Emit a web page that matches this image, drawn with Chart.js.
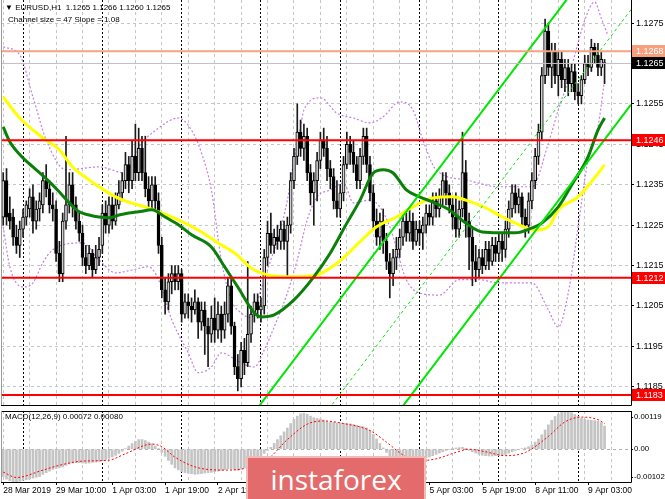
<!DOCTYPE html>
<html>
<head>
<meta charset="utf-8">
<script src="https://cdn.jsdelivr.net/npm/chart.js@4.4.1/dist/chart.umd.min.js"></script>
<style>
  html, body { margin: 0; padding: 0; background: #fff; }
  #wrap { position: relative; width: 665px; height: 499px; overflow: hidden; background: #fff; font-family: 'Liberation Sans', Arial, sans-serif; }
  #priceBox { position: absolute; left: 0; top: 0; width: 665px; height: 407px; }
  #macdBox { position: absolute; left: 0; top: 407px; width: 665px; height: 92px; }
  .hdr { position: absolute; font-size: 8px; color: #000; white-space: nowrap; line-height: 10px; }
  #watermark { position: absolute; left: 246px; top: 456px; width: 176px; height: 50px; background: #e36b6b; border: 2px solid #f2b9b9; color: #fff; font-family: 'Open Sans', 'Liberation Sans', sans-serif; font-size: 28px; line-height: 42px; text-align: center; }
</style>
</head>
<body>
<div id="wrap">
  <div id="priceBox"><canvas id="priceChart"></canvas></div>
  <div id="macdBox"><canvas id="macdChart"></canvas></div>
  <div class="hdr" style="left:5px;top:3px">&#9660; EURUSD,H1&nbsp; 1.1265 1.1266 1.1260 1.1265</div>
  <div class="hdr" style="left:8px;top:15px">Channel size = 47 Slope = 1.08</div>
  <div class="hdr" style="left:5px;top:412px">MACD(12,26,9) 0.00072 0.00080</div>
  <div id="watermark">instaforex</div>
</div>
<script>
// EURUSD H1 candles, bar 0 = 28 Mar 18:00
const opens = [
  1.1227,1.1236,1.1228,1.1227,1.1222,1.1220,1.1224,1.1227,1.1229,1.1232,
  1.1226,1.1229,1.1230,1.1236,1.1234,1.1230,1.1229,1.1218,1.1213,1.1226,
  1.1230,1.1235,1.1230,1.1226,1.1223,1.1217,1.1215,1.1218,1.1214,1.1217,
  1.1220,1.1228,1.1225,1.1230,1.1226,1.1230,1.1233,1.1236,1.1240,1.1236,
  1.1242,1.1238,1.1244,1.1238,1.1234,1.1231,1.1235,1.1231,1.1220,1.1209,
  1.1206,1.1211,1.1213,1.1211,1.1213,1.1203,1.1206,1.1205,1.1204,1.1206,
  1.1201,1.1204,1.1200,1.1198,1.1202,1.1199,1.1203,1.1199,1.1203,1.1210,
  1.1200,1.1190,1.1187,1.1194,1.1191,1.1198,1.1203,1.1206,1.1204,1.1205,
  1.1217,1.1223,1.1220,1.1222,1.1221,1.1224,1.1221,1.1225,1.1236,1.1242,
  1.1248,1.1244,1.1247,1.1238,1.1233,1.1236,1.1241,1.1246,1.1244,1.1239,
  1.1237,1.1231,1.1229,1.1233,1.1240,1.1245,1.1243,1.1240,1.1236,1.1242,
  1.1247,1.1240,1.1233,1.1226,1.1222,1.1226,1.1221,1.1216,1.1213,1.1217,
  1.1219,1.1222,1.1226,1.1223,1.1226,1.1221,1.1224,1.1223,1.1225,1.1228,
  1.1227,1.1231,1.1229,1.1232,1.1236,1.1233,1.1230,1.1227,1.1224,1.1229,
  1.1238,1.1226,1.1222,1.1216,1.1214,1.1217,1.1215,1.1219,1.1216,1.1220,
  1.1218,1.1221,1.1219,1.1224,1.1229,1.1233,1.1230,1.1232,1.1227,1.1225,
  1.1231,1.1236,1.1242,1.1248,1.1262,1.1273,1.1264,1.1268,1.1262,1.1266,
  1.1261,1.1264,1.1260,1.1263,1.1258,1.1257,1.1261,1.1265,1.1264,1.1269,
  1.1267,1.1264,1.1265
];
const highs = [
  1.1238,1.1239,1.1232,1.1229,1.1225,1.1226,1.1229,1.1231,1.1234,1.1235,
  1.1231,1.1233,1.1238,1.1240,1.1236,1.1233,1.1231,1.1221,1.1228,1.1247,
  1.1238,1.1238,1.1232,1.1228,1.1225,1.1220,1.1220,1.1219,1.1220,1.1222,
  1.1230,1.1231,1.1232,1.1232,1.1233,1.1236,1.1238,1.1243,1.1242,1.1246,
  1.1250,1.1249,1.1247,1.1247,1.1237,1.1237,1.1237,1.1233,1.1222,1.1212,
  1.1213,1.1215,1.1215,1.1215,1.1214,1.1208,1.1208,1.1207,1.1209,1.1207,
  1.1206,1.1206,1.1202,1.1205,1.1207,1.1206,1.1205,1.1206,1.1212,1.1212,
  1.1201,1.1193,1.1196,1.1197,1.1216,1.1205,1.1208,1.1208,1.1207,1.1219,
  1.1226,1.1228,1.1224,1.1225,1.1226,1.1226,1.1227,1.1238,1.1244,1.1255,
  1.1251,1.1250,1.1249,1.1240,1.1238,1.1243,1.1248,1.1249,1.1247,1.1241,
  1.1239,1.1236,1.1235,1.1242,1.1248,1.1247,1.1246,1.1242,1.1244,1.1249,
  1.1249,1.1242,1.1235,1.1229,1.1228,1.1229,1.1223,1.1218,1.1219,1.1222,
  1.1224,1.1228,1.1228,1.1229,1.1228,1.1226,1.1226,1.1227,1.1230,1.1230,
  1.1233,1.1233,1.1234,1.1238,1.1238,1.1235,1.1232,1.1233,1.1231,1.1248,
  1.1241,1.1228,1.1224,1.1220,1.1219,1.1219,1.1221,1.1221,1.1222,1.1222,
  1.1223,1.1223,1.1226,1.1231,1.1235,1.1235,1.1234,1.1233,1.1229,1.1233,
  1.1238,1.1244,1.1250,1.1264,1.1276,1.1275,1.1270,1.1270,1.1268,1.1268,
  1.1266,1.1266,1.1265,1.1265,1.1260,1.1262,1.1267,1.1267,1.1271,1.1270,
  1.1270,1.1268,1.1266
];
const lows = [
  1.1225,1.1225,1.1224,1.1220,1.1218,1.1217,1.1222,1.1225,1.1227,1.1223,
  1.1224,1.1226,1.1228,1.1232,1.1228,1.1226,1.1216,1.1211,1.1211,1.1224,
  1.1228,1.1227,1.1224,1.1221,1.1215,1.1213,1.1214,1.1212,1.1213,1.1215,
  1.1218,1.1223,1.1223,1.1224,1.1225,1.1229,1.1231,1.1234,1.1233,1.1234,
  1.1236,1.1236,1.1236,1.1232,1.1229,1.1229,1.1229,1.1218,1.1207,1.1203,
  1.1204,1.1208,1.1209,1.1209,1.1201,1.1202,1.1202,1.1201,1.1203,1.1197,
  1.1199,1.1193,1.1190,1.1196,1.1196,1.1197,1.1196,1.1197,1.1201,1.1198,
  1.1188,1.1184,1.1185,1.1188,1.1190,1.1196,1.1201,1.1202,1.1201,1.1203,
  1.1215,1.1218,1.1218,1.1219,1.1219,1.1219,1.1212,1.1223,1.1234,1.1240,
  1.1242,1.1241,1.1236,1.1230,1.1225,1.1231,1.1239,1.1242,1.1236,1.1234,
  1.1229,1.1227,1.1227,1.1231,1.1239,1.1240,1.1238,1.1234,1.1234,1.1240,
  1.1238,1.1231,1.1224,1.1220,1.1219,1.1218,1.1214,1.1207,1.1210,1.1214,
  1.1217,1.1220,1.1221,1.1221,1.1219,1.1220,1.1220,1.1219,1.1223,1.1225,
  1.1225,1.1227,1.1227,1.1230,1.1230,1.1228,1.1224,1.1222,1.1222,1.1227,
  1.1222,1.1214,1.1210,1.1211,1.1212,1.1213,1.1214,1.1214,1.1215,1.1216,
  1.1216,1.1216,1.1217,1.1222,1.1227,1.1228,1.1228,1.1225,1.1222,1.1223,
  1.1229,1.1234,1.1240,1.1246,1.1260,1.1262,1.1259,1.1260,1.1257,1.1259,
  1.1258,1.1257,1.1258,1.1256,1.1255,1.1255,1.1260,1.1262,1.1263,1.1265,
  1.1262,1.1262,1.1260
];
const closes = [
  1.1236,1.1227,1.1226,1.1222,1.1220,1.1224,1.1227,1.1230,1.1232,1.1226,
  1.1229,1.1231,1.1236,1.1234,1.1230,1.1229,1.1218,1.1213,1.1226,1.1230,
  1.1235,1.1230,1.1226,1.1223,1.1217,1.1215,1.1218,1.1214,1.1217,1.1219,
  1.1228,1.1225,1.1230,1.1226,1.1230,1.1233,1.1236,1.1240,1.1236,1.1242,
  1.1238,1.1244,1.1238,1.1234,1.1231,1.1235,1.1231,1.1220,1.1209,1.1206,
  1.1211,1.1213,1.1211,1.1213,1.1203,1.1206,1.1205,1.1204,1.1206,1.1201,
  1.1204,1.1200,1.1198,1.1202,1.1199,1.1203,1.1199,1.1203,1.1210,1.1200,
  1.1190,1.1187,1.1194,1.1191,1.1198,1.1203,1.1206,1.1204,1.1205,1.1217,
  1.1223,1.1220,1.1222,1.1221,1.1224,1.1221,1.1225,1.1236,1.1242,1.1248,
  1.1244,1.1247,1.1238,1.1233,1.1236,1.1241,1.1246,1.1244,1.1239,1.1237,
  1.1231,1.1229,1.1233,1.1240,1.1245,1.1243,1.1240,1.1236,1.1242,1.1247,
  1.1240,1.1233,1.1226,1.1222,1.1226,1.1221,1.1216,1.1213,1.1217,1.1219,
  1.1222,1.1226,1.1223,1.1226,1.1221,1.1224,1.1223,1.1225,1.1228,1.1227,
  1.1231,1.1229,1.1232,1.1236,1.1233,1.1230,1.1227,1.1224,1.1229,1.1238,
  1.1226,1.1222,1.1216,1.1214,1.1217,1.1215,1.1219,1.1216,1.1220,1.1218,
  1.1221,1.1219,1.1224,1.1229,1.1233,1.1230,1.1232,1.1227,1.1225,1.1231,
  1.1236,1.1242,1.1248,1.1262,1.1273,1.1264,1.1268,1.1262,1.1266,1.1261,
  1.1264,1.1260,1.1263,1.1258,1.1257,1.1261,1.1265,1.1264,1.1269,1.1267,
  1.1264,1.1266,1.1265
];

// moving averages and bands, [bar, price]
const maYellow = [[0,1.12567],[5,1.12515],[12,1.12466],[17,1.12436],[21,1.12394],[26,1.12362],[29,1.12345],[34,1.12320],[38,1.12307],[43,1.12295],[47,1.12283],[53,1.12263],[59,1.12238],[65,1.12206],[70,1.12181],[76,1.12139],[86,1.12122],[95,1.12127],[99,1.12144],[103,1.12169],[108,1.12209],[113,1.12246],[119,1.12270],[124,1.12295],[130,1.12317],[136,1.12320],[140,1.12312],[146,1.12293],[150,1.12275],[155,1.12255],[161,1.12238],[165,1.12246],[168,1.12288],[174,1.12320],[178,1.12357],[182,1.12399]];
const maGreen = [[0,1.12493],[2,1.12456],[6,1.12416],[9,1.12394],[14,1.12357],[17,1.12332],[20,1.12305],[23,1.12283],[26,1.12275],[29,1.12270],[32,1.12268],[35,1.12275],[38,1.12280],[41,1.12283],[45,1.12288],[49,1.12270],[53,1.12251],[57,1.12226],[63,1.12196],[67,1.12147],[71,1.12097],[76,1.12033],[78,1.12023],[82,1.12028],[88,1.12065],[94,1.12122],[99,1.12181],[104,1.12255],[108,1.12312],[112,1.12379],[115,1.12387],[118,1.12379],[122,1.12337],[126,1.12320],[130,1.12307],[135,1.12288],[140,1.12255],[145,1.12233],[150,1.12231],[155,1.12231],[160,1.12243],[163,1.12255],[168,1.12295],[172,1.12349],[177,1.12419],[180,1.12485],[182,1.12515]];
const bandUpper = [[0,1.12691],[5,1.12671],[9,1.12567],[13,1.12461],[19,1.12387],[29,1.12394],[37,1.12379],[41,1.12443],[47,1.12490],[53,1.12515],[57,1.12485],[60,1.12429],[63,1.12337],[66,1.12164],[69,1.12065],[72,1.12033],[75,1.12021],[78,1.12090],[81,1.12164],[83,1.12213],[86,1.12312],[88,1.12411],[90,1.12493],[91,1.12535],[96,1.12565],[101,1.12527],[106,1.12515],[111,1.12503],[115,1.12518],[120,1.12555],[124,1.12535],[127,1.12461],[131,1.12387],[140,1.12362],[150,1.12345],[160,1.12345],[165,1.12453],[168,1.12535],[171,1.12609],[173,1.12671],[176,1.12757],[179,1.12802],[181,1.12762],[183,1.12720]];
const bandLower = [[0,1.12246],[2,1.12147],[6,1.12097],[9,1.12107],[12,1.12157],[15,1.12189],[24,1.12206],[29,1.12164],[34,1.12132],[39,1.12139],[44,1.12147],[47,1.12115],[51,1.12016],[56,1.11934],[59,1.11885],[63,1.11899],[66,1.11934],[72,1.11909],[76,1.11899],[79,1.11941],[82,1.11998],[86,1.12082],[89,1.12164],[92,1.12263],[95,1.12320],[99,1.12337],[103,1.12354],[106,1.12305],[111,1.12312],[114,1.12295],[117,1.12246],[122,1.12115],[126,1.12082],[132,1.12077],[138,1.12115],[144,1.12115],[150,1.12107],[160,1.12107],[165,1.12040],[168,1.11998],[171,1.12082],[174,1.12246],[177,1.12411],[180,1.12493],[182,1.12609]];

// regression channel (size 47, slope 1.08)
const channelBars = [70, 190];
const channelUpper = [1.11722, 1.13018];
const channelMiddle = [1.11487, 1.12783];
const channelLower = [1.11252, 1.12548];

// levels
const redLevels = [1.1246, 1.1212, 1.1183];
const orangeLevel = 1.1268;
const bidLevel = 1.1265;

// MACD(12,26,9)
const macdHist = [
  -0.00085,-0.00093,-0.00098,-0.00101,-0.00102,-0.00100,-0.00097,-0.00095,-0.00093,-0.00090,
  -0.00087,-0.00085,-0.00078,-0.00073,-0.00068,-0.00063,-0.00060,-0.00058,-0.00055,-0.00050,
  -0.00046,-0.00043,-0.00042,-0.00042,-0.00043,-0.00044,-0.00043,-0.00041,-0.00040,-0.00038,
  -0.00035,-0.00032,-0.00028,-0.00024,-0.00019,-0.00013,-0.00006,0.00002,0.00010,0.00018,
  0.00025,0.00030,0.00030,0.00027,0.00022,0.00017,0.00010,0.00002,-0.00010,-0.00022,
  -0.00035,-0.00047,-0.00058,-0.00064,-0.00070,-0.00073,-0.00075,-0.00076,-0.00078,-0.00077,
  -0.00076,-0.00074,-0.00073,-0.00072,-0.00070,-0.00068,-0.00066,-0.00064,-0.00061,-0.00062,
  -0.00064,-0.00066,-0.00062,-0.00058,-0.00052,-0.00046,-0.00040,-0.00032,-0.00024,-0.00013,
  -0.00004,0.00006,0.00018,0.00030,0.00042,0.00054,0.00066,0.00080,0.00093,0.00103,
  0.00110,0.00112,0.00109,0.00103,0.00098,0.00096,0.00094,0.00091,0.00086,0.00084,
  0.00084,0.00082,0.00082,0.00081,0.00080,0.00079,0.00077,0.00074,0.00072,0.00070,
  0.00066,0.00058,0.00046,0.00032,0.00018,0.00004,-0.00010,-0.00022,-0.00032,-0.00038,
  -0.00041,-0.00042,-0.00041,-0.00039,-0.00036,-0.00034,-0.00032,-0.00030,-0.00027,-0.00024,
  -0.00020,-0.00016,-0.00012,-0.00008,-0.00004,-0.00001,0.00002,0.00004,0.00005,0.00006,
  0.00003,-0.00003,-0.00008,-0.00012,-0.00016,-0.00019,-0.00020,-0.00021,-0.00021,-0.00020,
  -0.00020,-0.00019,-0.00016,-0.00012,-0.00008,-0.00004,-0.00001,0.00002,0.00004,0.00008,
  0.00014,0.00022,0.00032,0.00045,0.00060,0.00076,0.00090,0.00102,0.00110,0.00116,
  0.00119,0.00118,0.00114,0.00108,0.00102,0.00096,0.00093,0.00091,0.00090,0.00089,
  0.00087,0.00083,0.00072
];
const macdSignal = [[0,-0.00071],[4,-0.00088],[12,-0.00065],[17,-0.00050],[24,-0.00037],[32,-0.00034],[37,-0.00014],[45,0.00016],[48,0.00008],[52,-0.00025],[60,-0.00060],[68,-0.00065],[75,-0.00055],[80,-0.00032],[86,0.00030],[92,0.00078],[97,0.00088],[103,0.00080],[111,0.00058],[116,0.00022],[121,-0.00018],[125,-0.00036],[131,-0.00030],[137,-0.00010],[141,0.00000],[146,-0.00008],[152,-0.00020],[158,-0.00010],[165,0.00040],[170,0.00085],[175,0.00100],[180,0.00092],[182,0.00080]];
const macdRange = [-0.00102, 0.00119];

// axes
const priceTicks = [1.1185, 1.1195, 1.1205, 1.1215, 1.1225, 1.1235, 1.1245, 1.1255, 1.1265, 1.1275];
const timeLabels = [[0,'28 Mar 2019'],[16,'29 Mar 10:00'],[33,'1 Apr 03:00'],[49,'1 Apr 19:00'],[65,'2 Apr 11:00'],[81,'3 Apr 03:00'],[97,'3 Apr 19:00'],[113,'4 Apr 11:00'],[129,'5 Apr 03:00'],[145,'5 Apr 19:00'],[161,'8 Apr 11:00'],[177,'9 Apr 03:00']];
const daySeparators = [6, 30, 54, 78, 102, 126, 150, 174];
const gridBars = [0, 8, 16, 24, 32, 40, 48, 56, 64, 72, 80, 88, 96, 104, 112, 120, 128, 136, 144, 152, 160, 168, 176, 184];

const X_MIN = -0.67, X_MAX = 190;
const AXIS_W = 34;

const pts = arr => arr.map(([x, y]) => ({ x, y }));
const hline = v => [{ x: X_MIN - 1, y: v }, { x: X_MAX + 1, y: v }];
const labelMap = new Map(timeLabels);

function xGridColor(ctx) {
    if (!ctx.tick) return 'transparent';
    const v = ctx.tick.value;
    if (daySeparators.includes(v)) return '#000';
    if (gridBars.includes(v)) return '#c6c6c6';
    return 'transparent';
}
function xGridDash(ctx) {
    if (ctx.tick && daySeparators.includes(ctx.tick.value)) return [2, 2];
    return [3, 3];
}
// no extra room for overhanging tick labels, the panels are packed edge to edge
function noPad(s) {
    s.paddingTop = 0; s.paddingBottom = 0; s.paddingLeft = 0; s.paddingRight = 0;
}

const framePlugin = {
    id: 'frame',
    afterDraw(chart) {
        const { ctx, chartArea: a } = chart;
        const top = chart.canvas.id === 'macdChart';
        ctx.save();
        ctx.lineWidth = 1;
        ctx.strokeStyle = '#000';
        ctx.beginPath();
        if (top) { ctx.moveTo(a.left, a.top + 0.5); ctx.lineTo(a.right + 0.5, a.top + 0.5); }
        ctx.moveTo(a.right + 0.5, a.top);
        ctx.lineTo(a.right + 0.5, a.bottom + 0.5);
        ctx.lineTo(a.left, a.bottom + 0.5);
        ctx.stroke();
        ctx.strokeStyle = '#9a9a9a';
        ctx.beginPath();
        ctx.moveTo(a.left + 0.5, a.top);
        ctx.lineTo(a.left + 0.5, a.bottom);
        ctx.stroke();
        ctx.restore();
    }
};

const priceTagPlugin = {
    id: 'priceTags',
    afterDraw(chart) {
        const { ctx, chartArea: a, scales: { y } } = chart;
        const tags = [[orangeLevel, '#f6a07e'], [bidLevel, '#000'], ...redLevels.map(v => [v, '#ff0000'])];
        ctx.save();
        ctx.font = '9px "Liberation Sans"';
        ctx.textBaseline = 'middle';
        tags.forEach(([v, bg]) => {
            const py = Math.round(y.getPixelForValue(v));
            ctx.fillStyle = bg;
            ctx.fillRect(a.right + 1, py - 6, AXIS_W, 12);
            ctx.fillStyle = '#fff';
            ctx.fillText(v.toFixed(4), a.right + 5, py + 0.5);
        });
        ctx.restore();
    }
};

Chart.defaults.font.family = '"Liberation Sans", Arial, sans-serif';
Chart.defaults.font.size = 9;
Chart.defaults.color = '#000';

function priceChart() {
    const wickData = highs.map((h, i) => ({ x: i, y: [lows[i], h] }));
    const bodyData = closes.map((c, i) => ({ x: i, y: [opens[i], c] }));
    const bodyFill = closes.map((c, i) => c >= opens[i] ? '#cfcfcf' : '#000');
    const line = (data, color, width, extra) => Object.assign({
        type: 'line', data, borderColor: color, borderWidth: width,
        pointRadius: 0, fill: false, cubicInterpolationMode: 'monotone'
    }, extra || {});

    new Chart(document.getElementById('priceChart'), {
        type: 'bar',
        data: {
            datasets: [
                line(pts(bandUpper), '#c27ee6', 1.2, { borderDash: [2, 2], order: 8 }),
                line(pts(bandLower), '#c27ee6', 1.2, { borderDash: [2, 2], order: 8 }),
                { type: 'bar', data: wickData, backgroundColor: '#1a1a1a', barThickness: 1, grouped: false, order: 7 },
                { type: 'bar', data: bodyData, backgroundColor: bodyFill, borderColor: '#000', borderWidth: 1,
                  borderSkipped: false, barThickness: 3, minBarLength: 1, grouped: false, order: 6 },
                line(pts(maYellow), '#ffff00', 3, { order: 5 }),
                line(pts(maGreen), '#0a800a', 3, { order: 4 }),
                line(channelBars.map((x, i) => ({ x, y: channelMiddle[i] })), '#00e600', 1, { borderDash: [3, 3], order: 3 }),
                line(channelBars.map((x, i) => ({ x, y: channelUpper[i] })), '#00e600', 2, { order: 3 }),
                line(channelBars.map((x, i) => ({ x, y: channelLower[i] })), '#00e600', 2, { order: 3 }),
                line(hline(bidLevel), '#c0c0c0', 1, { order: 2 }),
                line(hline(orangeLevel), '#f8a284', 2, { order: 2 }),
                ...redLevels.map(v => line(hline(v), '#ff0000', 2, { order: 1 }))
            ]
        },
        options: {
            responsive: true,
            maintainAspectRatio: false,
            animation: false,
            layout: { padding: { left: 1, top: 0, right: 0, bottom: 2 } },
            plugins: { legend: { display: false }, tooltip: { enabled: false } },
            scales: {
                x: {
                    type: 'linear', min: X_MIN, max: X_MAX, offset: false,
                    afterBuildTicks: s => { s.ticks = [...new Set([...gridBars, ...daySeparators])].sort((a, b) => a - b).map(v => ({ value: v })); },
                    afterFit: s => { s.height = 0; noPad(s); },
                    ticks: { display: false, autoSkip: false },
                    grid: { offset: false, color: xGridColor, drawTicks: false, lineWidth: 1 },
                    border: { display: false, dash: xGridDash }
                },
                y: {
                    position: 'right', min: 1.11805, max: 1.12807, beginAtZero: false,
                    afterBuildTicks: s => { s.ticks = priceTicks.map(v => ({ value: v })); },
                    afterFit: s => { s.width = AXIS_W; noPad(s); },
                    ticks: { callback: v => v.toFixed(4), padding: 2, font: { size: 9 } },
                    grid: { color: '#c6c6c6', tickColor: '#000', tickLength: 3 },
                    border: { display: false, dash: [3, 3] }
                }
            }
        },
        plugins: [framePlugin, priceTagPlugin]
    });
}

function macdChart() {
    const histData = macdHist.map((v, i) => ({ x: i, y: v }));
    const span = macdRange[1] - macdRange[0];
    new Chart(document.getElementById('macdChart'), {
        type: 'bar',
        data: {
            datasets: [
                { type: 'bar', data: histData, backgroundColor: '#c4c4c4', barThickness: 2, grouped: false, order: 2 },
                { type: 'line', data: pts(macdSignal), borderColor: '#ff0000', borderWidth: 1, borderDash: [2, 2],
                  pointRadius: 0, cubicInterpolationMode: 'monotone', order: 1 }
            ]
        },
        options: {
            responsive: true,
            maintainAspectRatio: false,
            animation: false,
            layout: { padding: { left: 1, top: 4, right: 0, bottom: 0 } },
            plugins: { legend: { display: false }, tooltip: { enabled: false } },
            scales: {
                x: {
                    type: 'linear', min: X_MIN, max: X_MAX, offset: false,
                    afterBuildTicks: s => {
                        const all = new Set([...gridBars, ...daySeparators, ...timeLabels.map(t => t[0])]);
                        s.ticks = [...all].sort((a, b) => a - b).map(v => ({ value: v }));
                    },
                    afterFit: s => { s.height = 17; noPad(s); },
                    ticks: {
                        autoSkip: false, maxRotation: 0, minRotation: 0, align: 'start', padding: 1,
                        font: { size: 8.5 },
                        callback: v => labelMap.get(v) || ''
                    },
                    grid: {
                        offset: false, color: xGridColor, lineWidth: 1, tickLength: 3,
                        tickColor: ctx => ctx.tick && labelMap.has(ctx.tick.value) ? '#000' : 'transparent'
                    },
                    border: { display: false, dash: xGridDash }
                },
                y: {
                    position: 'right', min: macdRange[0], max: macdRange[1], beginAtZero: false,
                    // labels sit just inside the panel edges, like the terminal does
                    afterBuildTicks: s => {
                        s.ticks = [
                            { value: macdRange[0] + span * 0.07, label: macdRange[0].toFixed(5) },
                            { value: 0, label: '0.00' },
                            { value: macdRange[1] - span * 0.085, label: macdRange[1].toFixed(5) }
                        ];
                    },
                    afterFit: s => { s.width = AXIS_W; noPad(s); },
                    ticks: { padding: 1, font: { size: 7.8 }, callback: (v, i, t) => t[i].label },
                    grid: {
                        color: ctx => ctx.tick && ctx.tick.value === 0 ? '#b0b0b0' : 'transparent',
                        tickColor: '#000', tickLength: 2
                    },
                    border: { display: false, dash: [3, 3] }
                }
            }
        },
        plugins: [framePlugin]
    });
}

priceChart();
macdChart();
</script>
</body>
</html>
